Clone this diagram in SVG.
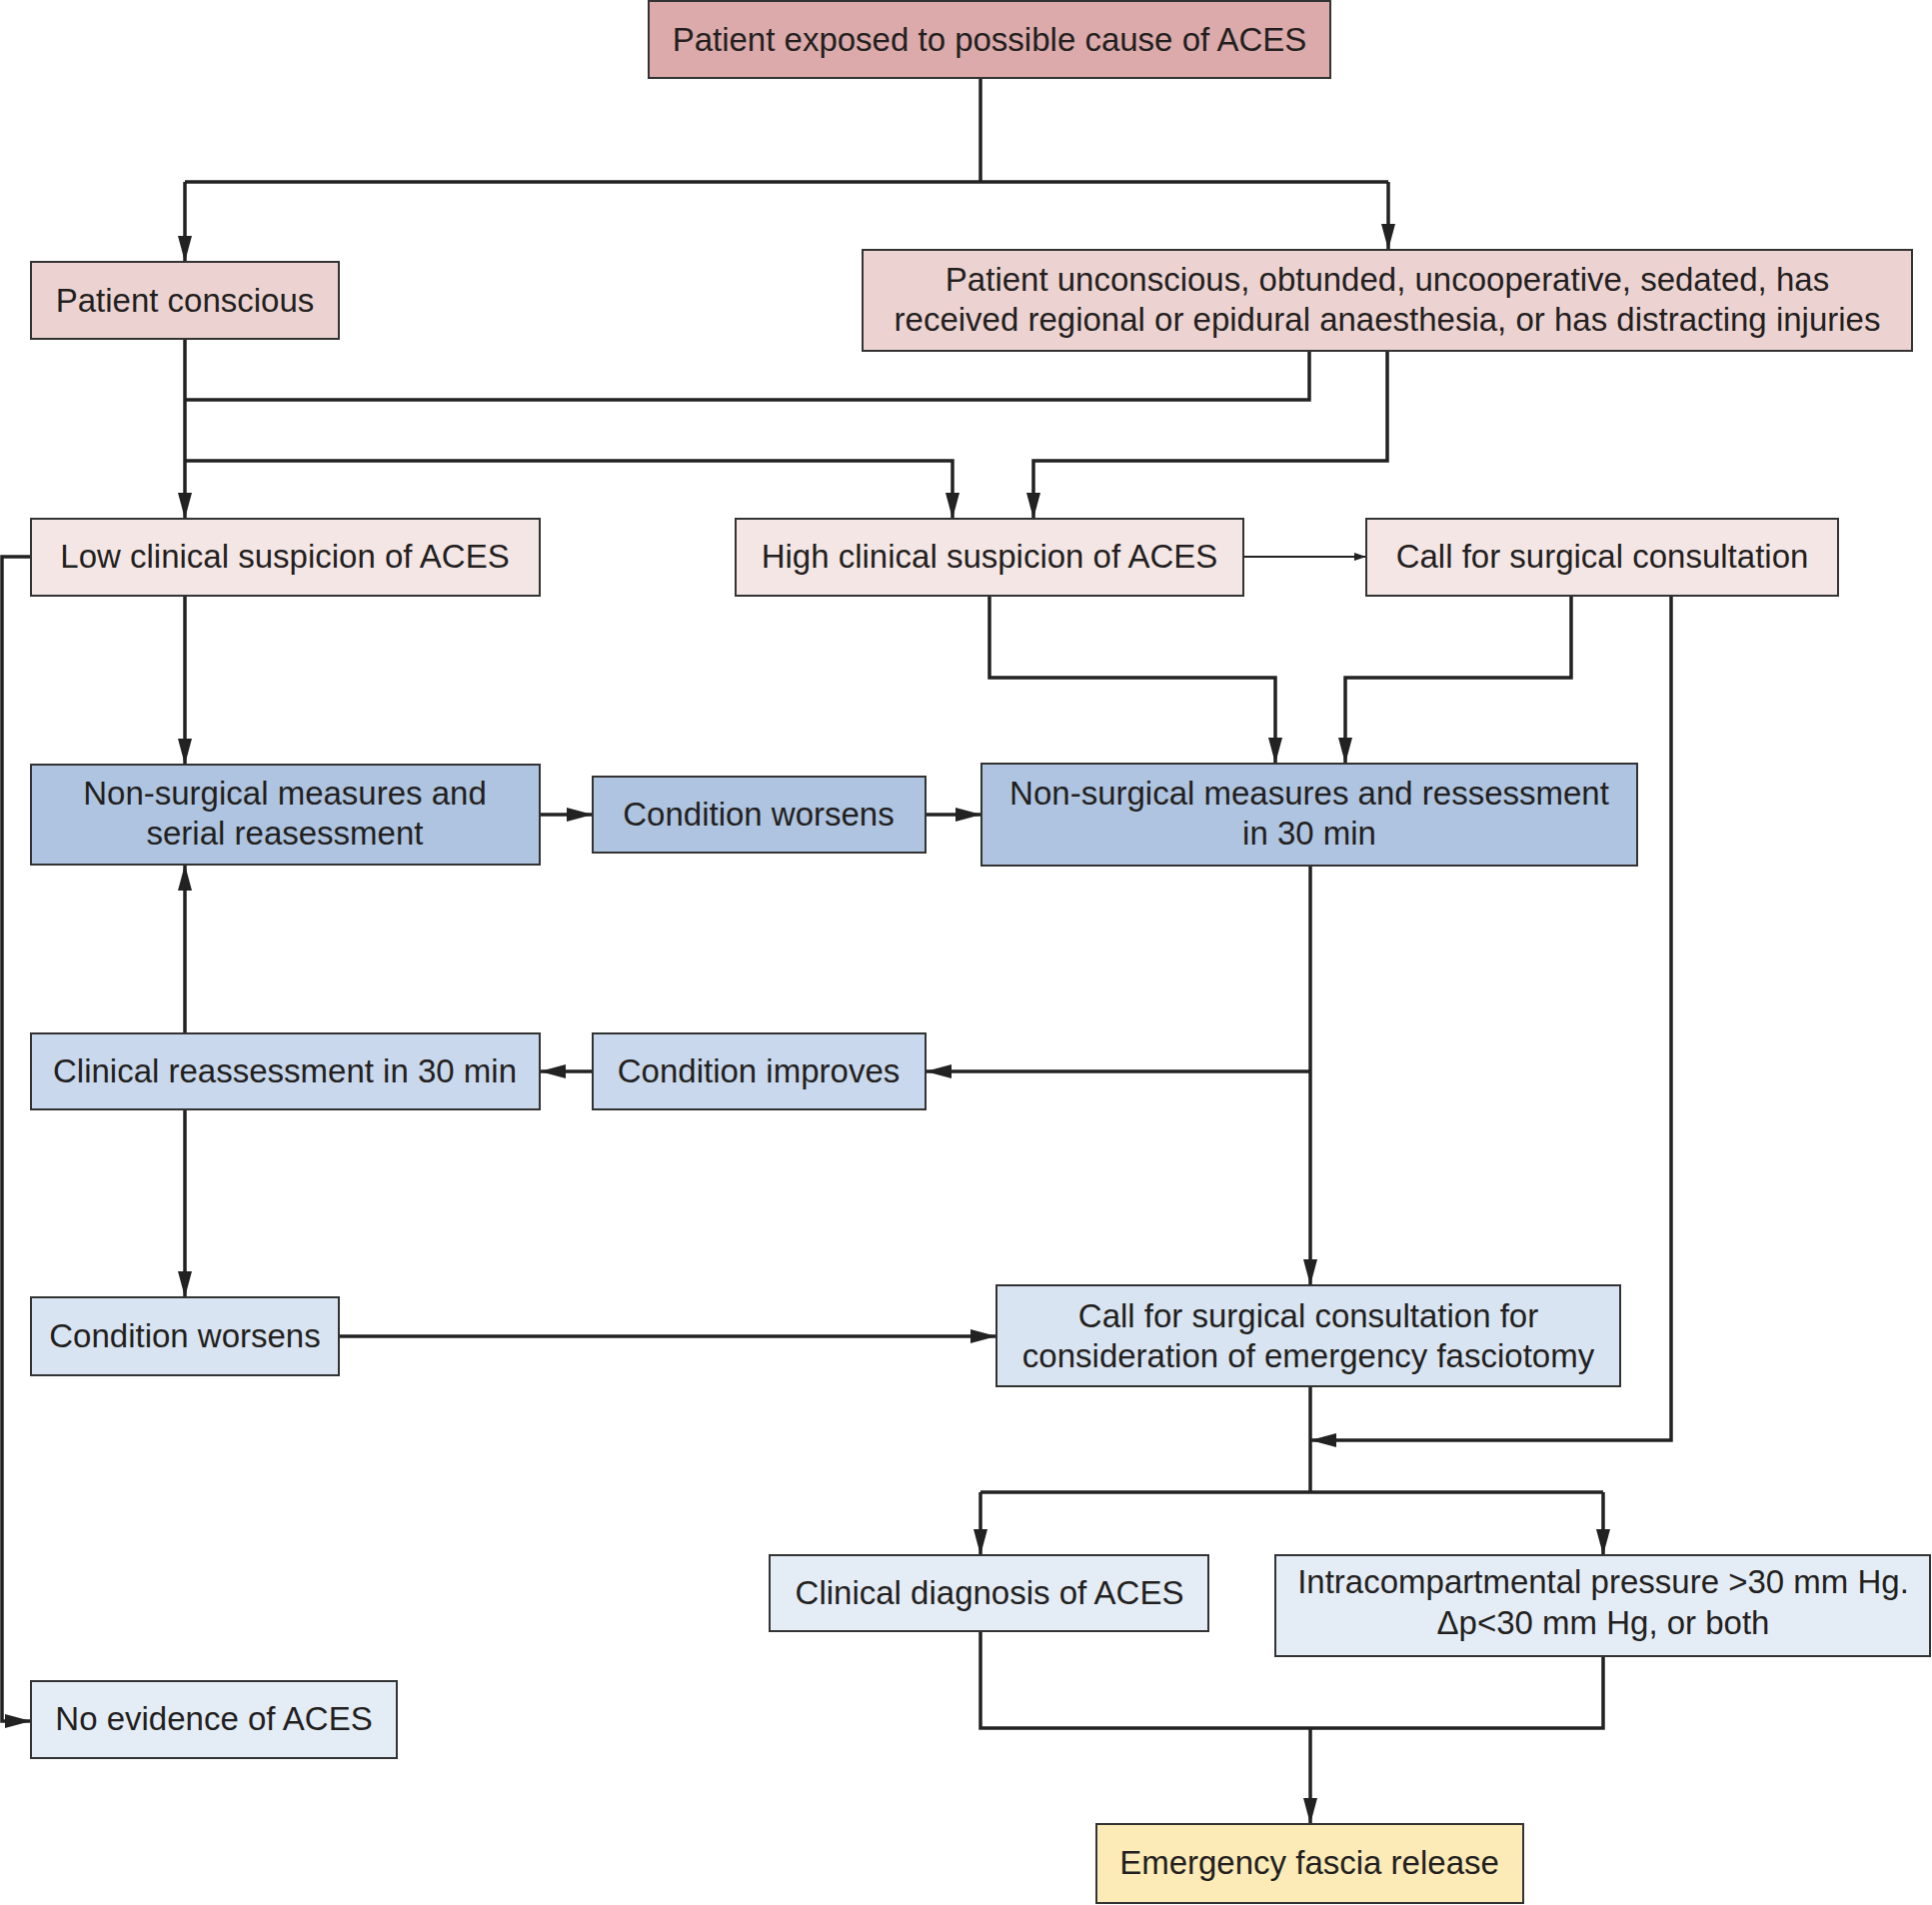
<svg xmlns="http://www.w3.org/2000/svg" width="1933" height="1906" viewBox="0 0 1933 1906">
<style>
.box{stroke:#333;stroke-width:2}
.t{font-family:"Liberation Sans",Arial,sans-serif;font-size:33px;fill:#231f20;text-anchor:middle}
.c{fill:none;stroke:#222;stroke-width:3.5}
.thin{fill:none;stroke:#222;stroke-width:1.8}
.p1{fill:#dcaaab}.p2{fill:#ecd3d2}.p3{fill:#f5e6e6}
.b1{fill:#aec4e0}.b2{fill:#c9d8ec}.b3{fill:#d8e4f1}.b4{fill:#e4ecf6}
.y1{fill:#fdebb7}
</style>
<defs>
<marker id="ah" viewBox="0 0 26 14" refX="26" refY="7" markerWidth="26" markerHeight="14" markerUnits="userSpaceOnUse" orient="auto"><path d="M0,0 L26,7 L0,14 z" fill="#222"/></marker>
<marker id="ahs" viewBox="0 0 12 8" refX="12" refY="4" markerWidth="12" markerHeight="8" markerUnits="userSpaceOnUse" orient="auto"><path d="M0,0 L12,4 L0,8 z" fill="#222"/></marker>
</defs>
<rect width="1933" height="1906" fill="#fff"/>
<g id="connectors">
<path class="c" d="M981,78 V182"/>
<path class="c" d="M185,182 H1389"/>
<path class="c" d="M185,182 V262" marker-end="url(#ah)"/>
<path class="c" d="M1389,182 V250" marker-end="url(#ah)"/>
<path class="c" d="M185,339 V519" marker-end="url(#ah)"/>
<path class="c" d="M185,400 H1310 V351"/>
<path class="c" d="M1388,351 V461 H1034 V519" marker-end="url(#ah)"/>
<path class="c" d="M185,461 H953 V519" marker-end="url(#ah)"/>
<path class="c" d="M31,557 H2 V1722 H31" marker-end="url(#ah)"/>
<path class="c" d="M185,596 V765" marker-end="url(#ah)"/>
<path class="c" d="M540,815 H593" marker-end="url(#ah)"/>
<path class="c" d="M926,815 H982" marker-end="url(#ah)"/>
<path class="thin" d="M1244,557 H1367" marker-end="url(#ahs)"/>
<path class="c" d="M990,596 V678 H1276 V764" marker-end="url(#ah)"/>
<path class="c" d="M1572,596 V678 H1346 V764" marker-end="url(#ah)"/>
<path class="c" d="M1672,596 V1441 H1311" marker-end="url(#ah)"/>
<path class="c" d="M1311,866 V1286" marker-end="url(#ah)"/>
<path class="c" d="M1311,1072 H926" marker-end="url(#ah)"/>
<path class="c" d="M593,1072 H540" marker-end="url(#ah)"/>
<path class="c" d="M185,1034 V865" marker-end="url(#ah)"/>
<path class="c" d="M185,1110 V1298" marker-end="url(#ah)"/>
<path class="c" d="M339,1337 H997" marker-end="url(#ah)"/>
<path class="c" d="M1311,1387 V1493"/>
<path class="c" d="M981,1493 H1604"/>
<path class="c" d="M981,1493 V1556" marker-end="url(#ah)"/>
<path class="c" d="M1604,1493 V1556" marker-end="url(#ah)"/>
<path class="c" d="M981,1632 V1729 H1604 V1657"/>
<path class="c" d="M1311,1729 V1825" marker-end="url(#ah)"/>
</g>
<g id="n-exposed"><rect class="box p1" x="649" y="1" width="682" height="77"/><text class="t" x="990" y="51">Patient exposed to possible cause of ACES</text></g>
<g id="n-conscious"><rect class="box p2" x="31" y="262" width="308" height="77"/><text class="t" x="185" y="312">Patient conscious</text></g>
<g id="n-unconscious"><rect class="box p2" x="863" y="250" width="1050" height="101"/><text class="t" x="1388" y="291">Patient unconscious, obtunded, uncooperative, sedated, has</text><text class="t" x="1388" y="331">received regional or epidural anaesthesia, or has distracting injuries</text></g>
<g id="n-low"><rect class="box p3" x="31" y="519" width="509" height="77"/><text class="t" x="285" y="568">Low clinical suspicion of ACES</text></g>
<g id="n-high"><rect class="box p3" x="736" y="519" width="508" height="77"/><text class="t" x="990" y="568">High clinical suspicion of ACES</text></g>
<g id="n-call"><rect class="box p3" x="1367" y="519" width="472" height="77"/><text class="t" x="1603" y="568">Call for surgical consultation</text></g>
<g id="n-nonsurg-serial"><rect class="box b1" x="31" y="765" width="509" height="100"/><text class="t" x="285" y="805">Non-surgical measures and</text><text class="t" x="285" y="845">serial reasessment</text></g>
<g id="n-worsens-top"><rect class="box b1" x="593" y="777" width="333" height="76"/><text class="t" x="759" y="826">Condition worsens</text></g>
<g id="n-nonsurg-30"><rect class="box b1" x="982" y="764" width="656" height="102"/><text class="t" x="1310" y="805">Non-surgical measures and ressessment</text><text class="t" x="1310" y="845">in 30 min</text></g>
<g id="n-reassess"><rect class="box b2" x="31" y="1034" width="509" height="76"/><text class="t" x="285" y="1083">Clinical reassessment in 30 min</text></g>
<g id="n-improves"><rect class="box b2" x="593" y="1034" width="333" height="76"/><text class="t" x="759" y="1083">Condition improves</text></g>
<g id="n-worsens-low"><rect class="box b3" x="31" y="1298" width="308" height="78"/><text class="t" x="185" y="1348">Condition worsens</text></g>
<g id="n-call-fasciotomy"><rect class="box b3" x="997" y="1286" width="624" height="101"/><text class="t" x="1309" y="1328">Call for surgical consultation for</text><text class="t" x="1309" y="1368">consideration of emergency fasciotomy</text></g>
<g id="n-no-evidence"><rect class="box b4" x="31" y="1682" width="366" height="77"/><text class="t" x="214" y="1731">No evidence of ACES</text></g>
<g id="n-clin-diag"><rect class="box b4" x="770" y="1556" width="439" height="76"/><text class="t" x="990" y="1605">Clinical diagnosis of ACES</text></g>
<g id="n-pressure"><rect class="box b4" x="1276" y="1556" width="655" height="101"/><text class="t" x="1604" y="1594">Intracompartmental pressure &gt;30 mm Hg.</text><text class="t" x="1604" y="1635">Δp&lt;30 mm Hg, or both</text></g>
<g id="n-emergency"><rect class="box y1" x="1097" y="1825" width="427" height="79"/><text class="t" x="1310" y="1875">Emergency fascia release</text></g>
</svg>
